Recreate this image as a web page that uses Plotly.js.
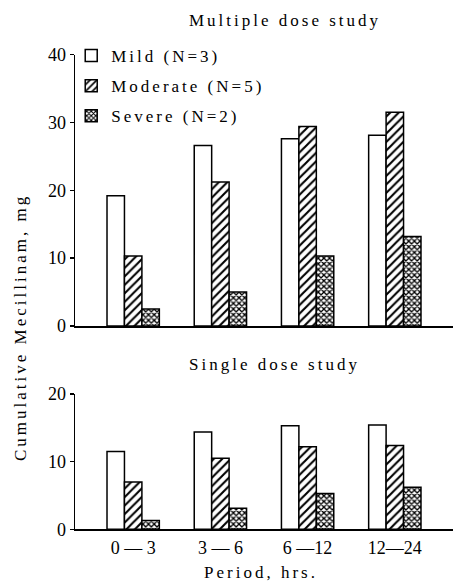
<!DOCTYPE html>
<html>
<head>
<meta charset="utf-8">
<script src="https://cdn.plot.ly/plotly-3.0.1.min.js"></script>
<style>
html,body{margin:0;padding:0;background:#fff;}
.annotation-text, .legendtext { letter-spacing: 3px; }
</style>
</head>
<body>
<div id="warm" style="position:absolute;left:-2000px;top:0;font-family:'Liberation Serif';font-size:17px">Mild Moderate Severe 0123456789 (N=) Period, hrs. Cumulative</div>
<div id="chart" style="width:453px;height:583px;"></div>
<script>
// Data
const periods = ["0 — 3", "3 — 6", "6 —12", "12—24"];
const seriesNames = ["Mild (N=3)", "Moderate (N=5)", "Severe (N=2)"];
const multipleMild = [19.2, 26.6, 27.6, 28.1];
const multipleModerate = [10.3, 21.2, 29.4, 31.5];
const multipleSevere = [2.5, 5.0, 10.3, 13.2];
const singleMild = [11.5, 14.4, 15.3, 15.4];
const singleModerate = [7.0, 10.5, 12.2, 12.4];
const singleSevere = [1.3, 3.1, 5.3, 6.2];

const H = 583;
const px = (y) => (H - y) / H;

const patterns = [
  {shape: "", fillmode: "replace"},
  {shape: "/", fgcolor: "#000", bgcolor: "#fff", size: 6, solidity: 0.35},
  {shape: "x", fgcolor: "#000", bgcolor: "#fff", size: 4, solidity: 0.55}
];

function mk(vals, i, xa, ya, showleg) {
  return {
    type: "bar", x: periods, y: vals, name: seriesNames[i],
    xaxis: xa, yaxis: ya, showlegend: showleg, legendgroup: "g" + i,
    marker: {color: "#fff", line: {color: "#000", width: 1.5}, pattern: patterns[i]},
    hoverinfo: "skip"
  };
}

const data = [
  mk(multipleMild, 0, "x", "y", true),
  mk(multipleModerate, 1, "x", "y", true),
  mk(multipleSevere, 2, "x", "y", true),
  mk(singleMild, 0, "x2", "y2", false),
  mk(singleModerate, 1, "x2", "y2", false),
  mk(singleSevere, 2, "x2", "y2", false)
];

const f = (s) => ({family: "Liberation Serif", size: s, color: "#000"});

function xax(extra) {
  return Object.assign({
    range: [-0.667, 3.667], showgrid: false, zeroline: false, showline: true,
    linecolor: "#000", linewidth: 1.5, ticks: "", fixedrange: true, automargin: false,
    tickfont: f(18)
  }, extra);
}
function yax(extra) {
  return Object.assign({
    showgrid: false, zeroline: false, showline: true, linecolor: "#000", linewidth: 1.5,
    ticks: "outside", ticklen: 4, tickwidth: 1.5, tickcolor: "#000", automargin: false,
    tickfont: f(18), fixedrange: true
  }, extra);
}

const layout = {
  width: 453, height: 583,
  margin: {l: 75, r: 0, t: 0, b: 0},
  paper_bgcolor: "#fff", plot_bgcolor: "#fff",
  font: f(17),
  barmode: "group", bargap: 0.4, bargroupgap: 0,
  showlegend: true,
  legend: {
    x: -0.01, y: px(38), xanchor: "left", yanchor: "top",
    bgcolor: "rgba(0,0,0,0)", font: f(17), traceorder: "grouped",
    tracegroupgap: 5, itemclick: false, itemdoubleclick: false
  },
  xaxis: xax({anchor: "y", showticklabels: false}),
  yaxis: yax({range: [0, 40], tickvals: [0, 10, 20, 30, 40], domain: [px(326), px(54.5)], anchor: "x"}),
  xaxis2: xax({anchor: "y2", showticklabels: true, ticklabelstandoff: 2}),
  yaxis2: yax({range: [0, 20], tickvals: [0, 10, 20], domain: [px(529.3), px(394)], anchor: "x2"}),
  annotations: [
    {text: "Multiple dose study", xref: "paper", yref: "paper", x: (285 - 75) / 378, y: px(21),
     xanchor: "center", yanchor: "middle", showarrow: false, font: f(17)},
    {text: "Single dose study", xref: "paper", yref: "paper", x: (274 - 75) / 378, y: px(365),
     xanchor: "center", yanchor: "middle", showarrow: false, font: f(17)},
    {text: "Period, hrs.", xref: "paper", yref: "paper", x: (261 - 75) / 378, y: px(572),
     xanchor: "center", yanchor: "middle", showarrow: false, font: f(17)},
    {text: "Cumulative Mecillinam, mg", xref: "paper", yref: "paper", x: (20 - 75) / 378, y: px(328),
     xanchor: "center", yanchor: "middle", showarrow: false, font: f(17), textangle: -90}
  ]
};

function draw() {
  return Plotly.newPlot("chart", data, layout, {displayModeBar: false, staticPlot: true}).then(function () {
    var w = document.getElementById("warm");
    if (w) w.remove();
  });
}
var loader = (document.fonts && document.fonts.load) ? document.fonts.load("17px 'Liberation Serif'") : Promise.resolve();
loader.then(draw, draw);
</script>
</body>
</html>
